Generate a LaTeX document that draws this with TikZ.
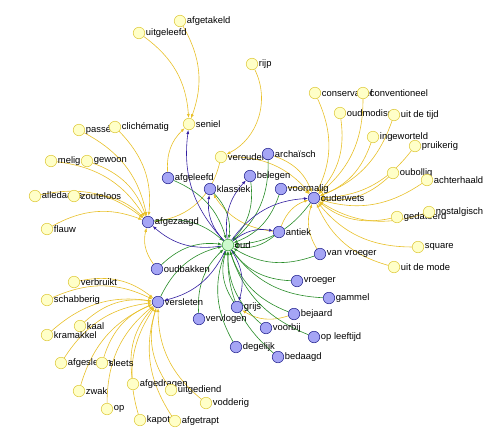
\documentclass[tikz,border=0pt]{standalone}
\usepackage{fontspec}
\setmainfont{Liberation Sans}
\usepackage{xcolor}
\usepackage{tikz}
\usetikzlibrary{arrows.meta}
\usetikzlibrary{backgrounds}
\definecolor{yfill}{RGB}{255,255,200}
\definecolor{ydraw}{RGB}{225,205,70}
\definecolor{yline}{RGB}{232,192,40}
\definecolor{bfill}{RGB}{165,165,245}
\definecolor{bdraw}{RGB}{45,45,150}
\definecolor{gfill}{RGB}{205,250,205}
\definecolor{gdraw}{RGB}{70,170,70}
\definecolor{gline}{RGB}{40,140,40}
\definecolor{pline}{RGB}{50,30,160}
\begin{document}
\begin{tikzpicture}[x=1pt,y=-1pt,
  every node/.style={circle,minimum size=11.5pt,inner sep=0pt,line width=0.6pt},
  every label/.style={rectangle,draw=none,fill=none,minimum size=0pt,inner sep=0.6pt,
    font=\fontsize{9.4}{11}\selectfont},
  label distance=0pt,
  yel/.style={draw=ydraw,fill=yfill},
  blu/.style={draw=bdraw,fill=bfill},
  grn/.style={draw=gdraw,fill=gfill},
  yedge/.style={draw=yline,line width=0.6pt,-{Latex[length=4pt,width=3pt]},bend left=25},
  gedge/.style={draw=gline,line width=0.6pt,-{Latex[length=4pt,width=3pt]},bend left=25},
  pedge/.style={draw=pline,line width=0.6pt,-{Latex[length=4pt,width=3pt]},bend left=25}]
\useasboundingbox (0,0) rectangle (500,437);
\foreach \n/\x/\y/\t in {afgetakeld/180/21/afgetakeld, uitgeleefd/139/33/uitgeleefd,
  seniel/189/124/seniel, passe/79/130/passé, clichematig/115/127/clichématig,
  melig/51/161/melig, gewoon/87/161/gewoon, alledaags/35/196/alledaags,
  zouteloos/74/196/zouteloos, flauw/47/229/flauw, verouderd/221/157/verouderd,
  rijp/252/64/rijp, conservatief/315/93/conservatief, conventioneel/363/93/conventioneel,
  oudmodisch/340/113/oudmodisch, uitdetijd/394/115/uit de tijd,
  ingeworteld/373/137/ingeworteld, pruikerig/415/146/pruikerig,
  oubollig/393/173/oubollig, achterhaald/427/180/achterhaald,
  gedateerd/397/217/gedateerd, nostalgisch/429/212/nostalgisch,
  square/418/247/square, uitdemode/394/267/uit de mode,
  verbruikt/74/282/verbruikt, schabberig/47/300/schabberig, kaal/80/326/kaal,
  kramakkel/47/335/kramakkel, afgesleten/61/363/afgesleten, sleets/102/363/sleets,
  zwak/79/391/zwak, afgedragen/133/384/afgedragen, uitgediend/171/390/uitgediend,
  vodderig/206/403/vodderig, op/107/409/op, kapot/140/420/kapot,
  afgetrapt/175/421/afgetrapt}
  \node[yel,label=right:\t] (\n) at (\x,\y) {};
\foreach \n/\x/\y/\t in {afgeleefd/168/178/afgeleefd, klassiek/210/189/klassiek,
  belegen/250/176/belegen, archaisch/268/154/archaïsch, voormalig/281/189/voormalig,
  ouderwets/314/198/ouderwets, afgezaagd/148/222/afgezaagd, antiek/279/232/antiek,
  vanvroeger/320/254/van vroeger, oudbakken/157/269/oudbakken,
  versleten/158/302/versleten, vervlogen/199/319/vervlogen, grijs/237/307/grijs,
  vroeger/297/281/vroeger, gammel/329/298/gammel, bejaard/294/314/bejaard,
  voorbij/266/328/voorbij, opleeftijd/314/337/op leeftijd,
  degelijk/236/347/degelijk, bedaagd/278/357/bedaagd}
  \node[blu,label=right:\t] (\n) at (\x,\y) {};
\node[grn,label=right:oud] (oud) at (228,245) {};
\begin{scope}[on background layer]
\foreach \s/\t in {uitgeleefd/seniel, afgetakeld/seniel, afgeleefd/seniel,
  passe/afgezaagd, clichematig/afgezaagd, melig/afgezaagd, gewoon/afgezaagd,
  alledaags/afgezaagd, zouteloos/afgezaagd, flauw/afgezaagd, oudbakken/afgezaagd,
  conservatief/ouderwets, conventioneel/ouderwets, oudmodisch/ouderwets,
  uitdetijd/ouderwets, ingeworteld/ouderwets, pruikerig/ouderwets,
  oubollig/ouderwets, achterhaald/ouderwets, gedateerd/ouderwets,
  nostalgisch/ouderwets, square/ouderwets, uitdemode/ouderwets,
  vanvroeger/ouderwets, verouderd/ouderwets, archaisch/ouderwets,
  voormalig/ouderwets, antiek/ouderwets, antiek/klassiek, bejaard/grijs,
  verbruikt/versleten, schabberig/versleten, kaal/versleten, kramakkel/versleten,
  afgesleten/versleten, sleets/versleten, zwak/versleten, op/versleten,
  afgedragen/versleten, uitgediend/versleten, vodderig/versleten,
  kapot/versleten, afgetrapt/versleten}
  \draw[yedge] (\s) to (\t);
\draw[yedge,bend left=45] (rijp) to (verouderd);
\draw[yedge,bend left=35] (verouderd) to (afgezaagd);
\foreach \s in {afgeleefd, klassiek, belegen, archaisch, voormalig, ouderwets,
  antiek, vanvroeger, vroeger, gammel, bejaard, voorbij, opleeftijd, bedaagd,
  degelijk, vervlogen, grijs, versleten, oudbakken, afgezaagd}
  \draw[gedge] (\s) to (oud);
\foreach \t in {seniel, klassiek, belegen, ouderwets, antiek, afgezaagd,
  versleten, grijs}
  \draw[pedge] (oud) to (\t);
\end{scope}
\end{tikzpicture}
\end{document}
